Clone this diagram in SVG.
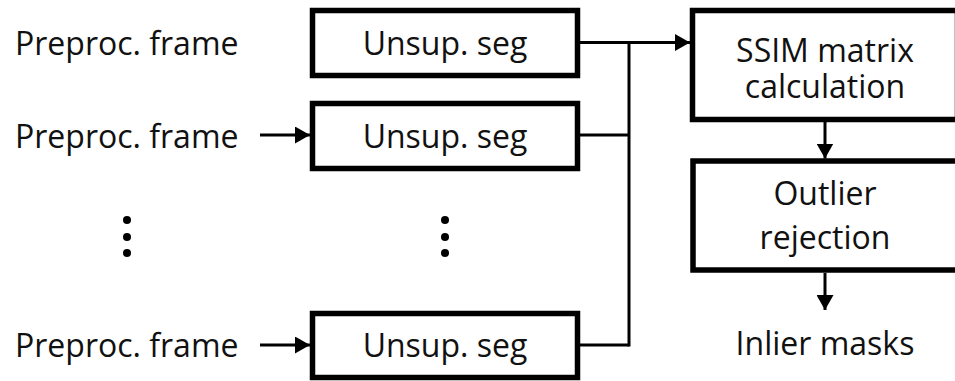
<svg xmlns="http://www.w3.org/2000/svg" width="955" height="381" viewBox="0 0 955 381">
  <style>
    text { font-family: "Open Sans", "Noto Sans", "Liberation Sans", sans-serif; font-size: 32px; fill: #111; }
    .c { text-anchor: middle; }
    .box { fill: #fff; stroke: #000; stroke-width: 5.5; }
    .wire { fill: none; stroke: #000; stroke-width: 3; }
    .dot { fill: #000; }
  </style>
  <defs>
    <marker id="ah" markerUnits="userSpaceOnUse" markerWidth="15" markerHeight="17" refX="15" refY="8.5" orient="auto">
      <path d="M0,0 L15,8.5 L0,17 z" fill="#000"/>
    </marker>
  </defs>
  <rect width="955" height="381" fill="#fff"/>

  <g id="labels-left">
    <text x="15" y="55">Preproc. frame</text>
    <text x="15" y="148">Preproc. frame</text>
    <text x="15" y="357">Preproc. frame</text>
  </g>

  <g id="seg1">
    <rect class="box" x="312.5" y="10.5" width="265" height="65"/>
    <text class="c" x="445" y="55">Unsup. seg</text>
  </g>
  <g id="seg2">
    <rect class="box" x="312.5" y="103.5" width="265" height="65"/>
    <text class="c" x="445" y="148">Unsup. seg</text>
  </g>
  <g id="seg3">
    <rect class="box" x="312.5" y="313.5" width="265" height="64"/>
    <text class="c" x="445" y="357">Unsup. seg</text>
  </g>

  <g id="ssim">
    <rect class="box" x="692.5" y="10.5" width="265" height="109"/>
    <text class="c" x="825" y="62">SSIM matrix</text>
    <text class="c" x="825" y="98">calculation</text>
  </g>
  <g id="outlier">
    <rect class="box" x="693" y="161" width="265" height="109"/>
    <text class="c" x="825" y="205">Outlier</text>
    <text class="c" x="825" y="249">rejection</text>
  </g>
  <g id="inlier">
    <text class="c" x="825" y="355">Inlier masks</text>
  </g>

  <g id="ellipsis">
    <circle class="dot" cx="127" cy="220" r="4"/>
    <circle class="dot" cx="127" cy="237" r="4"/>
    <circle class="dot" cx="127" cy="253" r="4"/>
    <circle class="dot" cx="445" cy="220" r="4"/>
    <circle class="dot" cx="445" cy="237" r="4"/>
    <circle class="dot" cx="445" cy="253" r="4"/>
  </g>

  <g id="connectors">
    <line class="wire" x1="260" y1="135" x2="310" y2="135" marker-end="url(#ah)"/>
    <line class="wire" x1="260" y1="345" x2="310" y2="345" marker-end="url(#ah)"/>
    <line class="wire" x1="580" y1="42.5" x2="690" y2="42.5" marker-end="url(#ah)"/>
    <line class="wire" x1="580" y1="135" x2="629" y2="135"/>
    <line class="wire" x1="580" y1="345" x2="629" y2="345"/>
    <line class="wire" x1="629" y1="41" x2="629" y2="346.5"/>
    <line class="wire" x1="825" y1="122" x2="825" y2="158.5" marker-end="url(#ah)"/>
    <line class="wire" x1="825" y1="273" x2="825" y2="310" marker-end="url(#ah)"/>
  </g>
</svg>
